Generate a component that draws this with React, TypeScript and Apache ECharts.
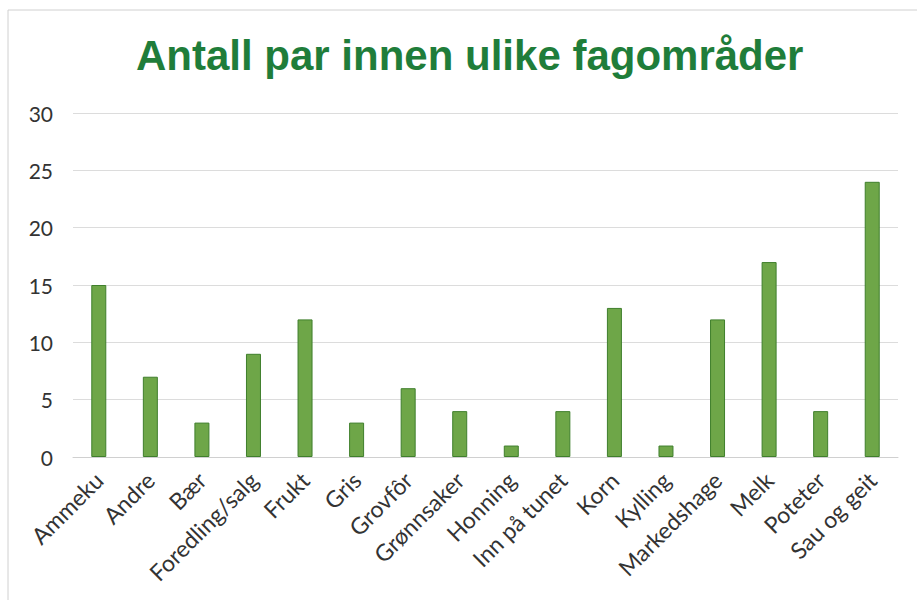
import React, { useEffect, useRef } from "react";
import * as echarts from "echarts";

const titleText = "Antall par innen ulike fagområder";
const categories = [
  "Ammeku", "Andre", "Bær", "Foredling/salg", "Frukt", "Gris", "Grovfôr", "Grønnsaker",
  "Honning", "Inn på tunet", "Korn", "Kylling", "Markedshage", "Melk", "Poteter", "Sau og geit",
];
const values = [15, 7, 3, 9, 12, 3, 6, 4, 1, 4, 13, 1, 12, 17, 4, 24];

export default function App() {
  const ref = useRef<HTMLDivElement>(null);
  useEffect(() => {
    if (!ref.current) return;
    const chart = echarts.init(ref.current, null, { renderer: "svg" });
    chart.setOption({
      animation: false,
      backgroundColor: "#ffffff",
      title: {
        text: titleText,
        left: 131,
        top: 29,
        textStyle: {
          fontFamily: "Liberation Sans",
          fontWeight: "bold",
          fontSize: 42,
          color: "#1f7d3a",
        },
      },
      graphic: [
        {
          type: "rect",
          shape: { x: 8, y: 10, width: 920, height: 600 },
          style: { fill: "none", stroke: "#d0d0d0", lineWidth: 1 },
          silent: true,
        },
      ],
      grid: { left: 73, right: 19, top: 113, bottom: 143 },
      xAxis: {
        type: "category",
        data: categories,
        axisLine: { show: true, lineStyle: { color: "#d0d0d0" } },
        axisTick: { show: false },
        axisLabel: {
          rotate: 45,
          interval: 0,
          fontFamily: "Lato",
          fontSize: 23,
          color: "#333333",
          margin: 19,
        },
      },
      yAxis: {
        type: "value",
        min: 0,
        max: 30,
        interval: 5,
        axisLine: { show: false },
        axisTick: { show: false },
        splitLine: { lineStyle: { color: "#dcdcdc" } },
        axisLabel: {
          fontFamily: "Lato",
          fontSize: 21,
          color: "#333333",
          margin: 20,
        },
      },
      series: [
        {
          type: "bar",
          data: values,
          barWidth: 15,
          itemStyle: {
            color: "#6ea648",
            borderColor: "#3f7f2c",
            borderWidth: 1,
          },
        },
      ],
    });
    return () => chart.dispose();
  }, []);
  return (
    <div
      ref={ref}
      style={{ position: "fixed", left: 0, top: 0, width: 917, height: 600 }}
    />
  );
}
